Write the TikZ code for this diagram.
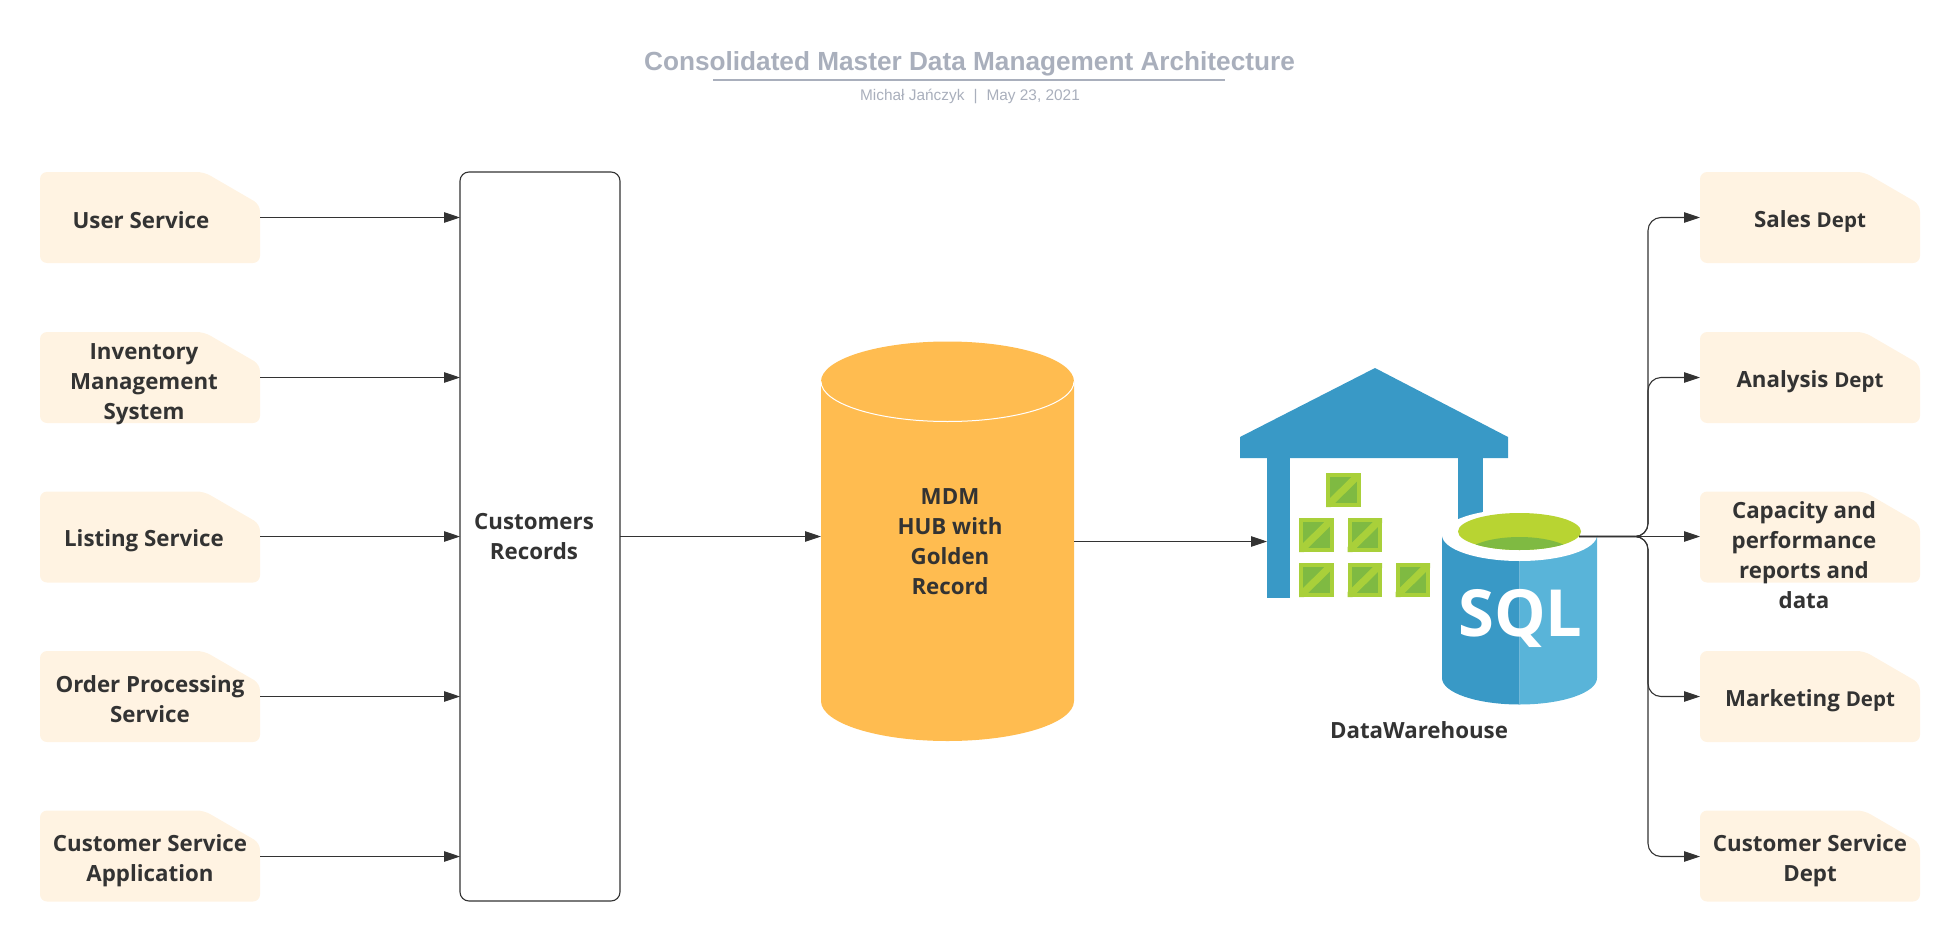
\documentclass[tikz,border=0pt]{standalone}
\usepackage{fontspec}
\setmainfont{Open Sans}
\newfontfamily\libsans{Liberation Sans}
\usetikzlibrary{arrows.meta}
\definecolor{notefill}{HTML}{FFF3E2}
\definecolor{ink}{HTML}{333333}
\definecolor{titlegray}{HTML}{A9AFBC}
\definecolor{mdmorange}{HTML}{FFBC50}
\definecolor{whblue}{HTML}{3999C6}
\definecolor{whlight}{HTML}{59B4D9}
\definecolor{crlime}{HTML}{A9D03A}
\definecolor{crgreen}{HTML}{7FBA42}
\definecolor{limetop}{HTML}{B8D432}
\newcommand{\notepath}[2]{%
  \fill[notefill,rounded corners=7pt] (#1-110,#2-45.5) -- (#1+54,#2-45.5) -- (#1+110,#2-13) -- (#1+110,#2+45.5) -- (#1-110,#2+45.5) -- cycle;}
\newcommand{\crate}[2]{%
  \fill[crlime] (#1,#2) rectangle ++(34.5,34);
  \fill[crgreen] (#1+4,#2+4) rectangle ++(26.5,26);
  \fill[crlime] (#1,#2+34) -- (#1+5,#2+34) -- (#1+34.5,#2+5) -- (#1+34.5,#2) -- (#1+29.5,#2) -- (#1,#2+29) -- cycle;}
\tikzset{
  x=1pt,y=-1pt,
  anchorbox/.style={minimum width=220pt,minimum height=91pt,inner sep=0pt,outer sep=0pt},
  lab/.style={text=ink,align=center,inner sep=0pt,font=\fontsize{22.3}{30}\selectfont\bfseries},
  conn/.style={draw=ink,line width=1.1pt},
  arr/.style={conn,-{Triangle[ink,length=16pt,width=10.5pt]}},
}
\begin{document}
\begin{tikzpicture}
\useasboundingbox (0,0) rectangle (1960,942);
% title
\node[text=titlegray,inner sep=0pt,font=\libsans\fontsize{26.2}{30}\selectfont\bfseries] (title) at (969.5,64) {Consolidated Master Data Management Architecture};
\coordinate (ulA) at (713,80.5);
\coordinate (ulB) at (1225,80.5);
\draw[titlegray,line width=2pt] (ulA) -- (ulB);
\node[text=titlegray,inner sep=0pt,font=\libsans\fontsize{15.4}{18}\selectfont] (sub) at (970,96) {Michał Jańczyk\hspace{9pt}|\hspace{9pt}May 23, 2021};
% left notes
\notepath{150}{217.5}\notepath{150}{377.5}\notepath{150}{537}\notepath{150}{696.5}\notepath{150}{856}
\node[anchorbox] (u) at (150,217.5) {};
\node[anchorbox] (i) at (150,377.5) {};
\node[anchorbox] (l) at (150,536.5) {};
\node[anchorbox] (o) at (150,696.5) {};
\node[anchorbox] (c) at (150,856.5) {};
\node[lab] (ut) at (141,220.5) {User Service};
\node[lab] (it) at (144,384) {Inventory\\Management\\System};
\node[lab] (lt) at (144,541) {Listing Service};
\node[lab] (ot) at (150,699) {Order Processing\\Service};
\node[lab] (ct) at (150,861) {Customer Service\\Application};
% customers
\node[draw=ink,line width=1.1pt,rounded corners=9pt,fill=white,minimum width=160pt,minimum height=729pt,inner sep=0pt,outer sep=0pt] (cust) at (540,536.5) {};
\node[lab] (custt) at (534,537) {Customers\\Records};
\foreach \n in {u,i,l,o,c}{\draw[arr] (\n.east) -- (cust.west |- \n.east);}
% MDM
\fill[mdmorange] (821,381.5) -- (821,701) arc[start angle=180,end angle=360,x radius=126.5,y radius=-40] -- (1074,381.5) -- cycle;
\fill[mdmorange] (947.5,381.5) ellipse[x radius=126.5,y radius=40];
\draw[white,line width=1pt] (821,381.5) arc[start angle=180,end angle=360,x radius=126.5,y radius=-40];
\node[inner sep=0pt,outer sep=0pt,minimum width=253pt,minimum height=400pt] (mdm) at (947.5,541) {};
\node[lab] (mdmt) at (950,542) {MDM\\HUB with\\Golden\\Record};
\draw[arr] (cust.east |- l.east) -- (mdm.west |- l.east);
% warehouse
\fill[whblue] (1375,368) -- (1508,437) -- (1508,458) -- (1240,458) -- (1240,437) -- cycle;
\fill[whblue] (1267,458) rectangle (1290,598);
\fill[whblue] (1458,458) rectangle (1483,530);
\crate{1326}{473}
\crate{1299}{518}\crate{1347.5}{518}
\crate{1299}{563}\crate{1347.5}{563}\crate{1395.5}{563}
\coordinate (whin) at (1267,541.5);
\draw[arr] (mdm.east |- whin) -- (whin);
% SQL cylinder
\fill[whblue] (1442,535) -- (1442,678) arc[start angle=180,end angle=270,x radius=77.5,y radius=-26.5] -- (1519.5,535) -- cycle;
\fill[whlight] (1597,535) -- (1597,678) arc[start angle=0,end angle=-90,x radius=77.5,y radius=-26.5] -- (1519.5,535) -- cycle;
\fill[white] (1519.5,535) ellipse[x radius=77.5,y radius=26];
\fill[limetop] (1519.5,531.5) ellipse[x radius=61.5,y radius=18.5];
\begin{scope}
\clip (1519.5,531.5) ellipse[x radius=61.5,y radius=18.5];
\fill[crgreen] (1519.5,557) ellipse[x radius=56,y radius=20];
\end{scope}
\node[text=white,inner sep=0pt,font=\fontsize{65}{65}\selectfont\bfseries] (sqlt) at (1520.5,618.5) {SQL};
\node[lab] (dwt) at (1419,730) {DataWarehouse};
\coordinate (sqlout) at (1579,536.5);
% right notes
\notepath{1810}{217.5}\notepath{1810}{377.5}\notepath{1810}{537}\notepath{1810}{696.5}\notepath{1810}{856}
\node[anchorbox] (r1) at (1810,217.5) {};
\node[anchorbox] (r2) at (1810,377.5) {};
\node[anchorbox] (r3) at (1810,536.5) {};
\node[anchorbox] (r4) at (1810,696.5) {};
\node[anchorbox] (r5) at (1810,856.5) {};
\newcommand{\smdept}{{\fontsize{20.5}{30}\selectfont Dept}}
\node[lab] (r1t) at (1810,221) {Sales \smdept};
\node[lab] (r2t) at (1810,381.5) {Analysis \smdept};
\node[lab] (r3t) at (1804,555) {Capacity and\\performance\\reports and\\data};
\node[lab] (r4t) at (1810,700.5) {Marketing \smdept};
\node[lab] (r5t) at (1810,861) {Customer Service\\Dept};
\coordinate (bus) at (1648,536.5);
\foreach \n in {r1,r2,r4,r5}{\draw[arr,rounded corners=13pt] (sqlout) -- (bus) -- (bus |- \n.west) -- (\n.west);}
\draw[arr] (sqlout) -- (r3.west);
\end{tikzpicture}
\end{document}
